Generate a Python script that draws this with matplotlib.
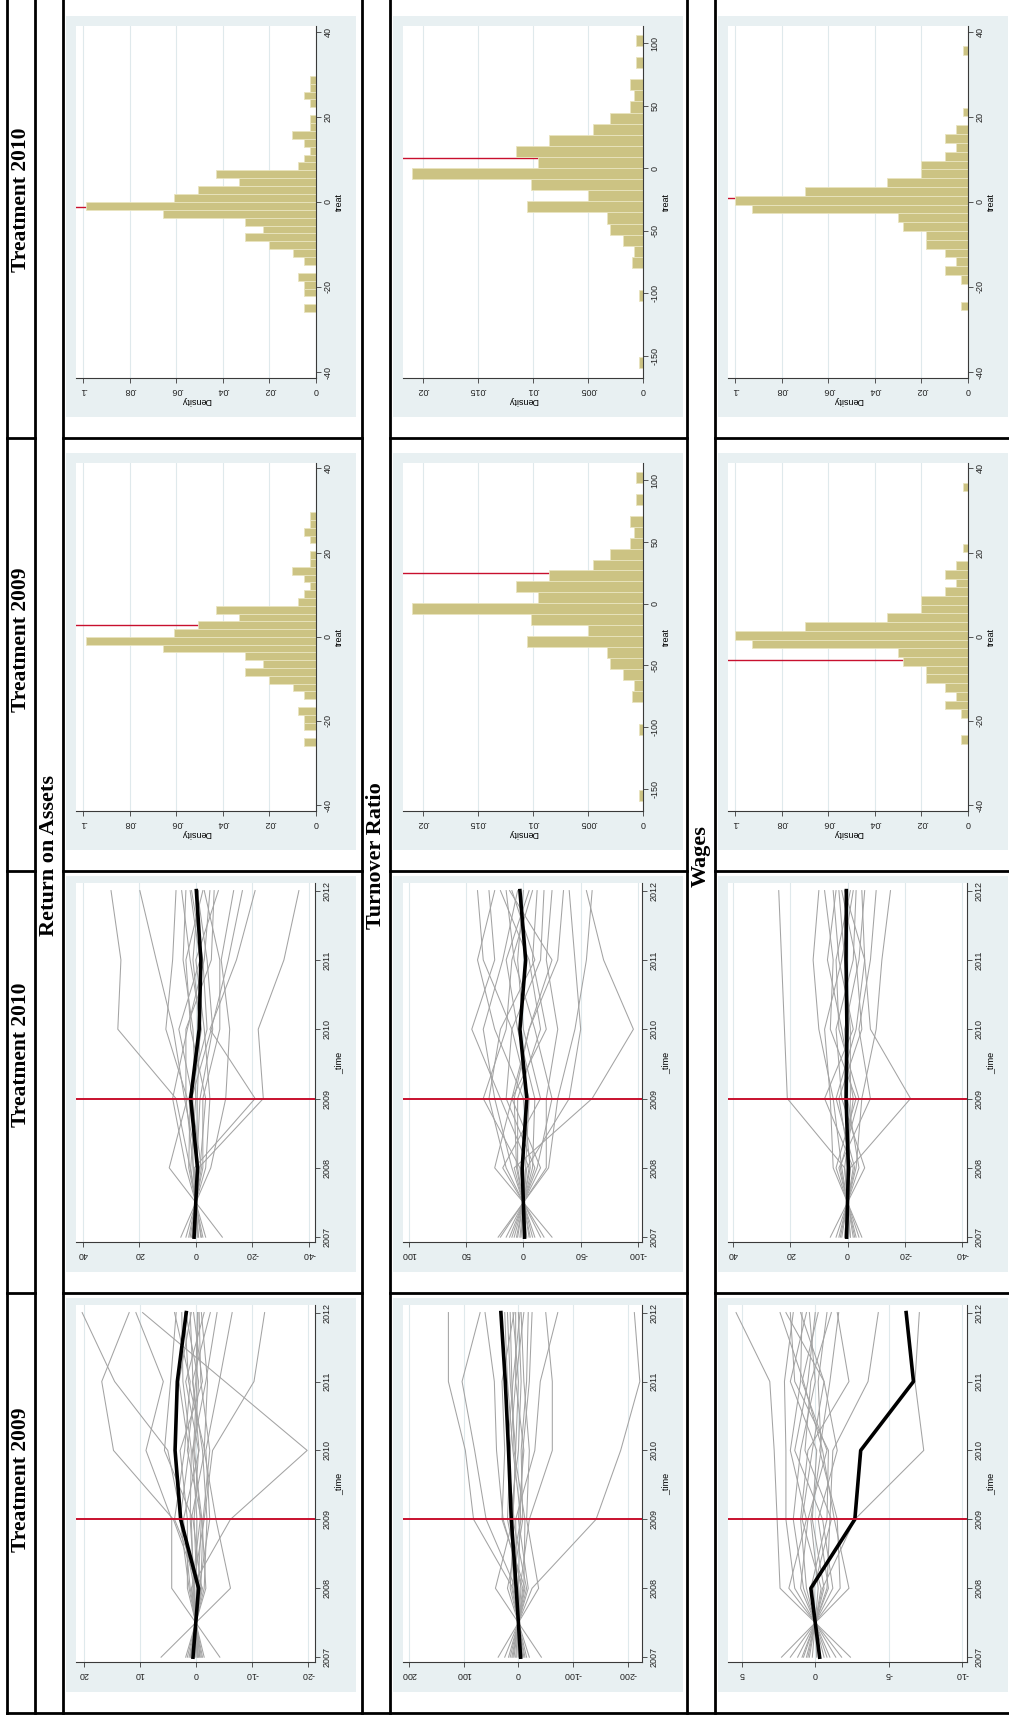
import matplotlib
matplotlib.use("Agg")
import matplotlib.pyplot as plt
from matplotlib.patches import Rectangle
from matplotlib.lines import Line2D

W, H = 1009, 1720
years = [2007, 2008, 2009, 2010, 2011, 2012]
treat_year = 2009

col_titles = ["Treatment 2009", "Treatment 2010", "Treatment 2009", "Treatment 2010"]
row_titles = ["Return on Assets", "Turnover Ratio", "Wages"]

# ---------------- line-panel data (values 2007..2012) ----------------
roa_t09_gray = [
    [0.5, -0.5, 4.0, 14.7, 16.8, 11.9], [-0.3, 0.3, 2.5, 5.0, 14.5, 20.3],
    [6.2, -6.2, -3.6, -1.5, -2.1, -1.0], [-0.8, 0.8, -6.2, -19.9, -5.2, 9.5],
    [-4.3, 4.3, 4.3, 8.9, 5.8, 10.7], [1.0, -1.0, 0.5, 5.6, 4.5, 3.5],
    [0.6, -0.6, -2.5, -1.8, -4.2, -6.5], [-0.5, 0.5, -1.5, -3.0, -10.4, -12.3],
    [1.2, -1.2, 3.8, 2.0, 1.0, 3.8], [-1.0, 1.0, 2.2, -0.6, 0.5, 1.0],
    [0.4, -0.4, -1.0, 1.5, 0.0, -0.3], [-0.2, 0.2, 1.0, 0.8, 2.3, 2.5],
    [1.5, -1.5, -2.0, -1.2, 0.6, -2.6], [-1.5, 1.5, 1.5, 2.8, -1.2, 0.4],
    [0.2, -0.2, 0.3, -0.5, 1.8, -1.5], [-0.7, 0.7, -0.8, 0.2, -0.5, 1.8],
    [0.9, -0.9, -1.3, -2.5, -0.9, -0.6], [-1.2, 1.2, 2.8, 1.2, 3.0, 0.8],
    [0.1, -0.1, -0.2, 0.6, -1.8, -3.8], [-0.4, 0.4, 0.8, -1.6, 1.3, 2.0],
    [1.8, -1.8, -1.1, 0.4, -0.2, -0.4],
]
roa_t09_black = [0.5, -0.5, 2.7, 3.7, 3.3, 1.7]

roa_t10_gray = [
    [-2.0, 2.0, 7.0, 27.6, 26.5, 30.0], [1.0, -1.0, -23.9, -22.1, -31.2, -36.5],
    [-0.5, 0.5, -21.0, -5.0, -14.4, -21.0], [-9.4, 9.4, 3.0, 10.6, 8.2, 7.0],
    [0.8, -0.8, 4.0, 8.0, 14.0, 19.8], [5.3, -5.3, -10.6, -12.0, -9.0, -13.4],
    [2.0, -2.0, 1.5, -5.5, -11.5, -16.5], [-3.5, 3.5, 8.2, 3.0, -3.0, -5.0],
    [1.5, -1.5, -3.5, 1.8, 3.5, -2.5], [-2.5, 2.5, 2.0, -2.0, 2.0, 5.0],
    [3.5, -3.5, -5.0, -3.0, 0.0, -8.0], [-1.0, 1.0, 1.0, 6.0, -1.5, 2.0],
    [0.3, -0.3, -1.5, -6.0, -4.0, -0.5], [-1.8, 1.8, 0.0, 1.0, 4.5, 3.5],
    [2.5, -2.5, -2.5, -8.5, -8.5, -3.0], [-0.8, 0.8, 3.5, 3.5, -5.5, -6.5],
    [0.5, -0.5, -0.5, -1.5, 1.0, -1.0], [1.2, -1.2, 2.5, -4.0, -2.5, 1.5],
]
roa_t10_black = [0.6, -0.6, 1.8, -1.2, -1.8, -0.2]

turn_t09_gray = [
    [-10, 10, 82, 97, 128, 128], [-5, 5, 59, 80, 103, 70],
    [8, -8, 28, 40, 44, 61], [-42, 42, 10, 5, 15, 20],
    [37, -37, -15, -20, -10, -5], [25, -25, -142, -187, -222, -212],
    [3, -3, -20, -62, -62, -50], [-3, 3, 5, -30, -40, -72],
    [15, -15, 10, 5, 0, 10], [-20, 20, -5, 10, 20, 25],
    [5, -5, 20, 15, 5, -10], [-12, 12, -8, -5, -15, -18],
    [18, -18, 0, -10, 5, 5], [-8, 8, 15, 0, -5, 0],
    [10, -10, -12, 8, 12, 15], [-15, 15, 8, 20, 10, -3],
    [0, 0, -3, -8, -20, -25], [12, -12, 30, 25, 30, 8],
]
turn_t09_black = [-4, 4, 13, 18, 24, 32]

turn_t10_gray = [
    [5, -5, 20, 45, 25, 30], [-8, 8, -60, -96, -70, -55],
    [3, -3, -40, -50, -45, -40], [10, -10, 15, 10, 35, 40],
    [-15, 15, 30, 20, -10, 10], [20, -20, -20, -30, -20, -25],
    [-25, 25, 10, -5, -30, -35], [8, -8, -10, 5, 15, -5],
    [-5, 5, 5, -15, -5, 20], [12, -12, -25, -10, 8, 15],
    [-10, 10, 25, 35, 18, 5], [2, -2, -5, 10, -15, -18],
    [15, -15, 10, -20, -8, -12], [-18, 18, -15, 0, 5, 0],
    [6, -6, 0, 25, 40, 25], [-3, 3, 35, 15, 10, -8],
    [22, -22, -30, -45, -55, -60], [-6, 6, 8, -5, -25, 12],
]
turn_t10_black = [-1, 1, -3, 3, -2, 3]

wage_t09_gray = [
    [-2.4, 2.4, 2.6, 2.8, 3.1, 5.4], [0.5, -0.5, -2.7, -7.4, -6.8, -7.1],
    [2.3, -2.3, -1.3, -0.5, 0.8, 2.4], [-1.4, 1.4, 2.0, 2.0, 2.1, 1.5],
    [0.8, -0.8, -1.0, -1.2, -3.6, -4.3], [-0.6, 0.6, 1.0, 0.5, -2.3, -1.5],
    [1.2, -1.2, -0.5, 1.4, 0.5, 0.0], [-1.0, 1.0, 0.5, -0.8, 0.9, -0.2],
    [0.4, -0.4, 0.9, 0.2, -0.6, 1.0], [-0.3, 0.3, -0.8, -0.9, 1.4, 1.7],
    [1.7, -1.7, -1.5, -0.3, -1.0, -1.6], [-0.8, 0.8, 1.5, 1.0, 0.0, 0.4],
    [0.2, -0.2, 0.3, -0.4, -0.2, -0.8], [-1.8, 1.8, 0.6, 1.7, 1.0, 0.9],
    [0.9, -0.9, -0.2, -1.5, -0.6, 2.0], [-0.1, 0.1, -1.1, 0.7, 0.3, -1.1],
    [0.6, -0.6, 0.2, -0.1, 1.7, 0.6],
]
wage_t09_black = [-0.3, 0.3, -2.7, -3.1, -6.7, -6.2]

wage_t10_gray = [
    [-1, 1, 21, 22, 23, 24], [1, -1, -22, -8, -6, -5],
    [-2, 2, 5, 10, 12, 10], [3, -3, -5, -10, -12, -15],
    [6, -6, 2, 4, -2, -3], [-4, 4, -3, 6, 5, 8],
    [2, -2, 8, -2, 3, 5], [-3, 3, -8, -4, -8, -10],
    [1, -1, 3, -5, -3, 2], [-1, 1, -2, 2, 7, 4],
    [4, -4, 0, 1, -4, -6], [-5, 5, 6, 8, 2, -2],
    [0.5, -0.5, -1, -1, 1, 3], [2.5, -2.5, 4, -3, -6, 1],
    [-2.5, 2.5, -4, 3, 4, -1],
]
wage_t10_black = [0.3, -0.3, 0.5, 0.2, 0.5, 0.4]

# ---------------- histogram data (30 bins each) ----------------
roa_bin_start, roa_bin_width = -25.95, 1.852
roa_density = [0.005, 0, 0.005, 0.005, 0.0076, 0, 0.005, 0.01, 0.0203, 0.0305,
               0.023, 0.0305, 0.066, 0.099, 0.061, 0.0508, 0.033, 0.0432, 0.0076, 0.005,
               0.0024, 0.005, 0.0102, 0.0024, 0.0024, 0, 0.0024, 0.005, 0.0024, 0.0024]
roa_effect = {2009: 2.86, 2010: -1.2}

turn_bin_start, turn_bin_width = -160.0, 8.9
turn_density = [0.0004, 0, 0, 0, 0, 0, 0.0004, 0, 0, 0.001,
                0.0008, 0.0018, 0.003, 0.0033, 0.0105, 0.005, 0.0102, 0.021, 0.0095, 0.0115,
                0.0085, 0.0045, 0.003, 0.0012, 0.0008, 0.0012, 0, 0.0006, 0, 0.0006]
turn_effect = {2009: 24.5, 2010: 8.0}

wage_bin_start, wage_bin_width = -25.5, 2.07
wage_density = [0.003, 0, 0, 0.003, 0.01, 0.005, 0.01, 0.018, 0.018, 0.028,
                0.03, 0.093, 0.1, 0.07, 0.035, 0.02, 0.02, 0.01, 0.005, 0.01,
                0.005, 0, 0.002, 0, 0, 0, 0, 0, 0, 0.002]
wage_effect = {2009: -5.5, 2010: 1.0}

# ---------------- styling ----------------
GRAPH_BG = "#E8F0F2"
GRID = "#DFE9EC"
SERIES_GRAY = "#A3A3A3"
RED = "#C8102E"
BAR = "#CCC383"
BAR_EDGE = "#E9E4BF"
AX_COL = "#3a3a3a"
TICK_FONT = ["Liberation Sans", "DejaVu Sans"]
TITLE_FONT = ["Liberation Serif", "DejaVu Serif"]

fig = plt.figure(figsize=(W / 100, H / 100), dpi=100)
fig.patch.set_facecolor("white")


def rect(x0, y0, x1, y1):
    return [x0 / W, 1 - y1 / H, (x1 - x0) / W, (y1 - y0) / H]


def add_bg(x0, y0, x1, y1):
    r = rect(x0, y0, x1, y1)
    fig.add_artist(Rectangle((r[0], r[1]), r[2], r[3], transform=fig.transFigure,
                             facecolor=GRAPH_BG, edgecolor="none", zorder=0))


def style_axes(ax):
    ax.set_facecolor("white")
    for s in ("top", "left"):
        ax.spines[s].set_visible(False)
    for s in ("right", "bottom"):
        ax.spines[s].set_color(AX_COL)
        ax.spines[s].set_linewidth(0.8)
    ax.yaxis.tick_right()
    ax.yaxis.set_label_position("right")
    ax.tick_params(axis="both", length=3.5, width=0.6, color=AX_COL, pad=2,
                   labelsize=6.5, labelcolor="#222222")
    for lab in ax.get_xticklabels():
        lab.set_rotation(180)
        lab.set_family(TICK_FONT)
    for lab in ax.get_yticklabels():
        lab.set_rotation(90)
        lab.set_va("center")
        lab.set_family(TICK_FONT)
    ax.grid(axis="x", color=GRID, lw=0.8, zorder=0)
    ax.set_axisbelow(True)


row_x0 = [63, 390, 715]
col_y = [(1293, 1713), (871, 1293), (438, 871), (1, 438)]
col_title_y = [1480, 1055, 640, 200]

line_panels = [
    [(roa_t09_gray, roa_t09_black, (21.4, -21.3), [20, 10, 0, -10, -20]),
     (roa_t10_gray, roa_t10_black, (42.4, -42.2), [40, 20, 0, -20, -40])],
    [(turn_t09_gray, turn_t09_black, (211, -226), [200, 100, 0, -100, -200]),
     (turn_t10_gray, turn_t10_black, (105, -103.5), [100, 50, 0, -50, -100])],
    [(wage_t09_gray, wage_t09_black, (5.95, -10.35), [5, 0, -5, -10]),
     (wage_t10_gray, wage_t10_black, (41.7, -41.7), [40, 20, 0, -20, -40])],
]

hist_panels = [
    (roa_bin_start, roa_bin_width, roa_density, roa_effect, (-41.4, 41.3),
     [-40, -20, 0, 20, 40], [0, .02, .04, .06, .08, .1], ["0", ".02", ".04", ".06", ".08", ".1"], 0.1032),
    (turn_bin_start, turn_bin_width, turn_density, turn_effect, (-168, 114),
     [-150, -100, -50, 0, 50, 100], [0, .005, .01, .015, .02], ["0", ".005", ".01", ".015", ".02"], 0.0218),
    (wage_bin_start, wage_bin_width, wage_density, wage_effect, (-41.4, 41.3),
     [-40, -20, 0, 20, 40], [0, .02, .04, .06, .08, .1], ["0", ".02", ".04", ".06", ".08", ".1"], 0.1032),
]

for r, rx0 in enumerate(row_x0):
    for c in range(2):
        cy0, cy1 = col_y[c]
        gray, black, xl, xt = line_panels[r][c]
        add_bg(rx0 + 3, cy0 + 5, rx0 + 293, cy1 - 21)
        ax = fig.add_axes(rect(rx0 + 13, cy0 + 12, rx0 + 252, cy1 - 51))
        for g in gray:
            ax.plot(g, years, color=SERIES_GRAY, lw=0.75, zorder=2)
        ax.plot(black, years, color="black", lw=2.6, zorder=3, solid_joinstyle="round")
        ax.axhline(treat_year, color=RED, lw=1.4, zorder=4)
        ax.set_xlim(*xl)
        ax.set_ylim(2006.93, 2012.11)
        ax.set_xticks(xt)
        ax.set_xticklabels([str(v) for v in xt])
        ax.set_yticks(years)
        ax.set_yticklabels([str(y) for y in years])
        ax.set_ylabel("_time", fontsize=6.5, family=TICK_FONT, labelpad=2)
        style_axes(ax)
    start, width, dens, eff, yl, yt, xt, xtl, xmax = hist_panels[r]
    centers = [start + width * (i + 0.5) for i in range(len(dens))]
    for c, ty in zip((2, 3), (2009, 2010)):
        cy0, cy1 = col_y[c]
        add_bg(rx0 + 3, cy0 + 15, rx0 + 293, cy1 - 21)
        ax = fig.add_axes(rect(rx0 + 13, cy0 + 25, rx0 + 253, cy1 - 60))
        ax.axhline(eff[ty], color=RED, lw=1.0, zorder=1.5)
        ax.barh(centers, dens, height=width, color=BAR, edgecolor=BAR_EDGE,
                linewidth=0.6, zorder=2)
        ax.set_xlim(xmax, 0)
        ax.set_ylim(*yl)
        ax.set_xticks(xt)
        ax.set_xticklabels(xtl)
        ax.set_yticks(yt)
        ax.set_yticklabels([str(v) for v in yt])
        ax.set_ylabel("treat", fontsize=6.5, family=TICK_FONT, labelpad=2)
        ax.set_xlabel("Density", fontsize=6.5, family=TICK_FONT, rotation=180, labelpad=1)
        style_axes(ax)


def hline(y, x0, x1):
    fig.add_artist(Line2D([x0 / W, x1 / W], [1 - y / H, 1 - y / H], transform=fig.transFigure,
                          color="black", lw=2.0, solid_capstyle="projecting", zorder=10))


def vline(x, y0, y1):
    fig.add_artist(Line2D([x / W, x / W], [1 - y0 / H, 1 - y1 / H], transform=fig.transFigure,
                          color="black", lw=2.0, solid_capstyle="projecting", zorder=10))


for x in [7, 35, 63, 362, 390, 687, 715]:
    vline(x, -2, 1713)
hline(1713, 7, W + 2)
for y in [438, 871, 1293]:
    for (a, b) in [(7, 35), (63, 362), (390, 687), (715, W + 2)]:
        hline(y, a, b)

for c, t in enumerate(col_titles):
    fig.text(21 / W, 1 - col_title_y[c] / H, t, rotation=90, ha="center", va="center",
             fontsize=15.5, fontweight="bold", family=TITLE_FONT)
for r, t in enumerate(row_titles):
    xc = [49, 376, 701][r]
    fig.text(xc / W, 1 - 856 / H, t, rotation=90, ha="center", va="center",
             fontsize=16, fontweight="bold", family=TITLE_FONT)

fig.savefig("out.png", dpi=100, facecolor="white")
